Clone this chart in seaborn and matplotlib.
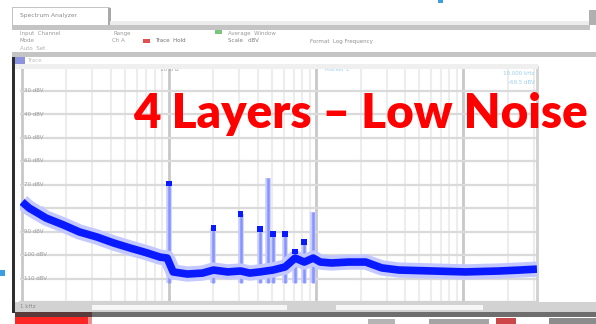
import matplotlib
matplotlib.use("Agg")
import matplotlib.pyplot as plt
from matplotlib.patches import Rectangle
from matplotlib.ticker import LogLocator, NullFormatter
import numpy as np
import pandas as pd
import seaborn as sns

# ---- spectrum data (Hz, dBV) ----
trace_freq = [1000, 1117, 1459, 1910, 2455, 3213, 4198, 5408, 7063, 8670, 9690,
              10640, 13280, 16830, 20000, 24950, 30600, 35300, 41300, 50700, 61300,
              71800, 82800, 95300, 106400, 126800, 165600, 216600, 278900, 364600,
              614000, 1032000, 1760000, 2420000, 3160000]
trace_level = [-77.4, -80.0, -84.3, -87.2, -90.2, -92.3, -94.9, -97.0, -99.1, -100.9, -101.3,
               -107.2, -108.1, -107.7, -106.4, -107.2, -106.8, -107.7, -107.2, -106.4, -105.1,
               -101.3, -103.0, -101.3, -103.0, -103.4, -103.0, -103.0, -105.5, -106.4,
               -106.8, -107.2, -106.8, -106.4, -106.0]

# harmonic spurs
spike_freq = [10000, 20000, 30600, 41300, 46900, 50700, 61300, 71800, 82800, 95300]
spike_level = [-69.5, -88.5, -82.5, -89.0, -67.2, -91.0, -91.0, -98.5, -94.5, -81.7]
spike_marked = [True, True, True, True, False, True, True, True, True, False]

y_ticks = [-30, -40, -50, -60, -70, -80, -90, -100, -110]
title_text = "4 Layers \u2013 Low Noise"

W, H = 596, 324
sns.set_style("white")
fig = plt.figure(figsize=(W / 100, H / 100), dpi=100)
fig.patch.set_facecolor("white")


def px_rect(x0, y0, x1, y1, color, z=1):
    fig.patches.append(Rectangle((x0 / W, 1 - y1 / H), (x1 - x0) / W, (y1 - y0) / H,
                                 transform=fig.transFigure, facecolor=color,
                                 edgecolor="none", zorder=z))


def px_text(x, y, s, color="#9a9a9a", size=4.2, **kw):
    fig.text(x / W, 1 - y / H, s, color=color, fontsize=size, va="center",
             ha=kw.pop("ha", "left"), **kw)


# ---- window chrome ----
px_rect(12, 7, 110, 8, "#c4c4c4")
px_rect(12, 7, 13, 25, "#c4c4c4")
px_rect(108, 8, 111, 25, "#a8a8a8")
px_text(20, 16, "Spectrum Analyzer", color="#8a8a8a", size=4.3)
px_rect(110, 21, 590, 25, "#ececec")
px_rect(12, 25, 590, 30, "#c4c4c4")
px_rect(589, 10, 596, 25, "#b0b0b0")
px_text(20, 33, "Input  Channel", size=4)
px_text(113, 33, "Range", size=4)
px_rect(215, 30, 222, 34, "#7cc47c")
px_text(228, 33, "Average  Window", size=4)
px_text(20, 41, "Mode", size=4)
px_text(112, 41, "Ch A", size=4)
px_rect(143, 39, 150, 43, "#e05050")
px_text(155, 41, "Trace  Hold", color="#707070", size=4)
px_text(228, 41, "Scale   dBV", color="#808080", size=4)
px_text(310, 41, "Format  Log Frequency", color="#909090", size=4)
px_text(20, 49, "Auto  Set", color="#b0b0b0", size=4)
px_rect(12, 52, 596, 57, "#c4c4c4")
px_rect(15, 57, 25, 64, "#8c94e0")
px_text(27, 60, "Trace", color="#c0c0c0", size=4)
px_rect(12, 57, 15, 313, "#2e2e2e")
px_rect(15, 64, 538, 69, "#efefef")

# bottom status area
px_rect(15, 302, 596, 312, "#d2d2d2")
px_rect(92, 305, 287, 310, "#f6f6f6")
px_rect(336, 305, 483, 310, "#f6f6f6")
px_text(20, 307, "1 kHz", color="#8a8a8a", size=4)
px_rect(15, 312, 596, 317, "#6e6e6e")
px_rect(15, 312, 92, 317, "#5a3a3a")
px_rect(15, 317, 88, 324, "#ff2626")
px_rect(88, 317, 92, 324, "#e89090")
px_rect(368, 319, 395, 324, "#b4b4b4")
px_rect(429, 319, 489, 324, "#a4a4a4")
px_rect(496, 318, 516, 324, "#cc4848")
px_rect(549, 318, 596, 324, "#8c8c8c")
px_rect(0, 270, 5, 276, "#3a9ee0")
px_rect(438, 0, 443, 3, "#3a9ee0")

# ---- spectrum axes ----
ax = fig.add_axes([20 / W, (H - 302) / H, 517 / W, 235 / H])
ax.set_facecolor("white")
ax.set_xscale("log")
ax.set_xlim(10 ** 2.986, 10 ** 6.5)
ax.set_ylim(-120, -20)

ax.set_yticks(np.arange(-120, -19, 10))
ax.xaxis.set_major_locator(LogLocator(base=10))
ax.xaxis.set_minor_locator(LogLocator(base=10, subs=np.arange(2, 10)))
ax.xaxis.set_minor_formatter(NullFormatter())
ax.grid(True, which="major", axis="y", color="#dadada", lw=1.6)
ax.grid(True, which="major", axis="x", color="#c8c8c8", lw=2.0)
ax.grid(True, which="minor", axis="x", color="#ededed", lw=1.5)
ax.tick_params(length=0, labelbottom=False, labelleft=False)
for side in ["left", "top"]:
    ax.spines[side].set_visible(False)
for side in ["right", "bottom"]:
    ax.spines[side].set_color("#d0d0d0")
    ax.spines[side].set_linewidth(2)

for v in y_ticks:
    ax.text(0.004, v, f"{v} dBV", transform=ax.get_yaxis_transform(),
            fontsize=4, color="#9c9c9c", va="center", ha="left")
ax.text(1e4, 1.0, "10 kHz", transform=ax.get_xaxis_transform(),
        fontsize=4, color="#a0a0a0", va="top", ha="center")
ax.text(1.15e5, 1.0, "Marker 1", transform=ax.get_xaxis_transform(),
        fontsize=4, color="#9ccff0", va="top", ha="left")
ax.text(0.995, 0.985, "10.000 kHz", transform=ax.transAxes,
        fontsize=4, color="#9ccff0", va="top", ha="right")
ax.text(0.995, 0.945, f"{spike_level[0]:.1f} dBV", transform=ax.transAxes,
        fontsize=4, color="#9ccff0", va="top", ha="right")

df = pd.DataFrame({"freq": trace_freq, "level": trace_level})

# spur lines
ax.vlines(spike_freq, -112, spike_level, color="#c8cdff", lw=4.0, zorder=3)
ax.vlines(spike_freq, -112, spike_level, color="#8793ff", lw=1.8, zorder=3)

# trace: soft halo then solid core
sns.lineplot(data=df, x="freq", y="level", ax=ax, color="#c3c9ff", lw=11,
             estimator=None, sort=False, zorder=4, solid_capstyle="butt")
sns.lineplot(data=df, x="freq", y="level", ax=ax, color="#0a1aff", lw=5.5,
             estimator=None, sort=False, zorder=5, solid_capstyle="butt")

mk_f = [f for f, m in zip(spike_freq, spike_marked) if m]
mk_l = [l for l, m in zip(spike_level, spike_marked) if m]
sns.scatterplot(x=mk_f, y=mk_l, ax=ax, color="#0a1aff", marker="s", s=16,
                edgecolor="none", zorder=6)
ax.set_xlabel("")
ax.set_ylabel("")

fig.text(133 / W, 1 - 128 / H, title_text, color="#ff0000", fontsize=34.2,
         fontweight="heavy", family="Lato", ha="left", va="baseline", zorder=10)

fig.savefig("out.png", dpi=100)
